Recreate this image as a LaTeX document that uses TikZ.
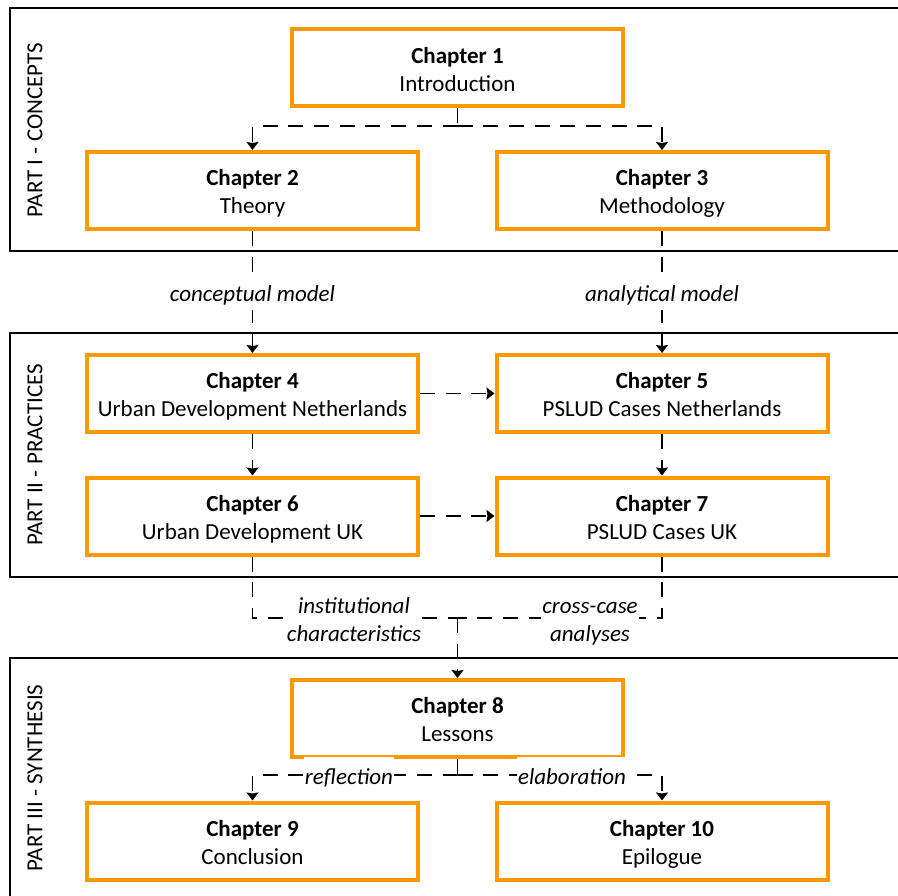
\documentclass[tikz,border=0pt]{standalone}
\usepackage{fontspec}
\setmainfont{Carlito}
\usetikzlibrary{arrows.meta}
\definecolor{chapterorange}{RGB}{255,153,0}
% a taller first line keeps both lines a little below the box centre
\newcommand\toprule{\rule{0pt}{26.5pt}}
\newcommand\chaptext[2]{\toprule\textbf{Chapter #1}\\#2\strut}
\newcommand\twolines[2]{\toprule#1\\#2\strut}
\tikzset{
  x=1pt, y=-1pt,
  chapterbox/.style={draw=chapterorange, line width=4pt, fill=white,
    minimum width=331pt, minimum height=77pt, inner sep=0pt, align=center,
    font=\fontsize{23}{28}\selectfont},
  partbox/.style={draw=black, line width=2pt},
  parttitle/.style={rotate=90, font=\fontsize{23}{28}\selectfont, inner sep=0pt},
  conn/.style={draw=black, line width=1.5pt, dash pattern=on 15pt off 10.7pt},
  arr/.style={-{Stealth[length=8pt,width=12pt,inset=1pt]}},
  lbl/.style={fill=white, inner sep=1pt, align=center,
    font=\fontsize{23}{28}\selectfont\itshape}
}
\begin{document}
\begin{tikzpicture}
\useasboundingbox (0,0) rectangle (898,896);

% the three parts
\draw[partbox] (10,8) rectangle (910,251);
\draw[partbox] (10,333) rectangle (910,577);
\draw[partbox] (10,658) rectangle (910,910);
\node[parttitle] (p1) at (35,130) {PART I - CONCEPTS};
\node[parttitle] (p2) at (35,455) {PART II - PRACTICES};
\node[parttitle] (p3) at (35,778) {PART III - SYNTHESIS};

% chapters
\node[chapterbox] (ch1) at (457.5,68) {\chaptext{1}{Introduction}};
\node[chapterbox] (ch2) at (252.5,190.5) {\chaptext{2}{Theory}};
\node[chapterbox] (ch3) at (662,190.5) {\chaptext{3}{Methodology}};
\node[chapterbox] (ch4) at (252.5,393.5) {\chaptext{4}{Urban Development Netherlands}};
\node[chapterbox] (ch5) at (662,393.5) {\chaptext{5}{PSLUD Cases Netherlands}};
\node[chapterbox] (ch6) at (252.5,516) {\chaptext{6}{Urban Development UK}};
\node[chapterbox] (ch7) at (662,516) {\chaptext{7}{PSLUD Cases UK}};
\node[chapterbox] (ch8) at (457.5,718.5) {\chaptext{8}{Lessons}};
\node[chapterbox] (ch9) at (252.5,841) {\chaptext{9}{Conclusion}};
\node[chapterbox] (ch10) at (662,841) {\chaptext{10}{Epilogue}};

% junctions
\coordinate (j1) at (457.5,126);
\coordinate (j3) at (457.5,618);
\coordinate (j4) at (457.5,775);

% Part I
\draw[conn] (ch1.south) -- (j1);
\draw[conn,arr] (j1) -| (ch2.north);
\draw[conn,arr] (j1) -| (ch3.north);

% into Part II
\draw[conn,arr] (ch2.south) -- node[lbl] (l1) {\toprule conceptual model\strut} (ch4.north);
\draw[conn,arr] (ch3.south) -- node[lbl] (l2) {\toprule analytical model\strut} (ch5.north);
\draw[conn,arr] (ch4.east) -- (ch5.west);
\draw[conn,arr] (ch6.east) -- (ch7.west);
\draw[conn,arr] (ch4.south) -- (ch6.north);
\draw[conn,arr] (ch5.south) -- (ch7.north);

% into Part III
\draw[conn] (ch6.south) |- (j3);
\draw[conn] (ch7.south) |- (j3);
\draw[conn,arr] (j3) -- (ch8.north);
\node[lbl] (l3) at (354,618) {\twolines{institutional}{characteristics}};
\node[lbl] (l4) at (590,618) {\twolines{cross-case}{analyses}};

\draw[conn] (ch8.south) -- (j4);
\draw[conn,arr] (j4) -| (ch9.north);
\draw[conn,arr] (j4) -| (ch10.north);
\node[lbl] (l5) at (349,775) {\toprule reflection\strut};
\node[lbl] (l6) at (572,775) {\toprule elaboration\strut};
\end{tikzpicture}
\end{document}
